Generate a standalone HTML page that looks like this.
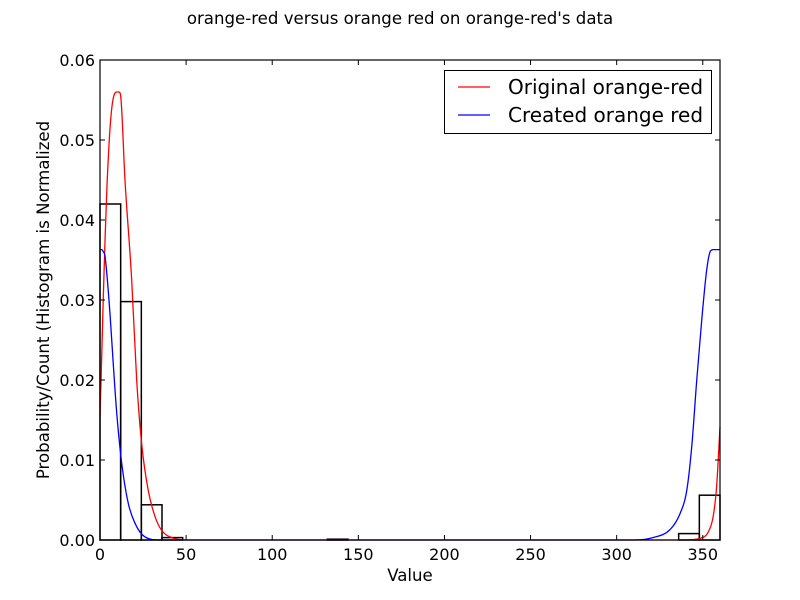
<!DOCTYPE html>
<html><head><meta charset="utf-8"><style>
body{margin:0;background:#fff;}
svg{display:block;font-family:"DejaVu Sans","Liberation Sans",sans-serif;}
</style></head><body>
<svg id="chart" width="800" height="600">
<rect width="800" height="600" fill="#fff"/>
<text x="400" y="24" text-anchor="middle" font-size="16.6">orange-red versus orange red on orange-red's data</text>
<g id="plot"></g>
<text x="410" y="581" text-anchor="middle" font-size="16.6">Value</text>
<text transform="translate(49,300) rotate(-90)" text-anchor="middle" font-size="16.6">Probability/Count (Histogram is Normalized</text>
</svg>
<script>
const binEdges=[0,12,24,36,48,60,72,84,96,108,120,132,144,156,168,180,192,204,216,228,240,252,264,276,288,300,312,324,336,348,360];
const binHeights=[0.042,0.0298,0.0044,0.0003,0,0,0,0,0,0,0,0.0001,0,0,0,0,0,0,0,0,0,0,0,0,0,0,0,0,0.0008,0.0056];
const redX=[0,1,2,3,4,6,8,10,11,12,14.5,18.4,21.3,24.2,28,32,35.8,41.6,50,340,348.4,353.2,356,358,360];
const redY=[0.0154,0.023,0.031,0.038,0.044,0.052,0.0555,0.056,0.056,0.0555,0.045,0.0325,0.02,0.012,0.0062,0.0029,0.0012,0.0003,0,0,0.0002,0.001,0.0029,0.0066,0.0141];
const blueX=[0,1,2,2.9,5.8,7.7,9.7,12.6,16.4,20.3,26,35,310,321,331,336.8,340.7,343.6,346.5,349.4,352.3,354.4,356,358,360];
const blueY=[0.0363,0.0363,0.036,0.0355,0.0283,0.022,0.0159,0.0096,0.0046,0.0021,0.0004,0,0,0.0003,0.0013,0.0033,0.0062,0.0117,0.02,0.0275,0.0338,0.0361,0.0363,0.0363,0.0363];
const xTicks=[0,50,100,150,200,250,300,350];
const yTicks=[0,0.01,0.02,0.03,0.04,0.05,0.06];
const X0=100,X1=720,Y0=540,Y1=60;
const sx=v=>X0+(v/360)*(X1-X0);
const sy=v=>Y0-(v/0.06)*(Y0-Y1);
const NS="http://www.w3.org/2000/svg";
const g=document.getElementById('plot');
function mk(t,a){const e=document.createElementNS(NS,t);for(const k in a)e.setAttribute(k,a[k]);g.appendChild(e);return e;}
for(let i=0;i<binHeights.length;i++){
  if(binHeights[i]<=0)continue;
  const r=mk('rect',{x:sx(binEdges[i]),y:sy(binHeights[i]),width:sx(binEdges[i+1])-sx(binEdges[i]),height:Y0-sy(binHeights[i]),fill:'none',stroke:'#000','stroke-width':1.5});
  
  
}
function smoothPath(xs,ys){
  const px=xs.map(sx),py=ys.map(sy),n=px.length;
  const d=[],m=[];
  for(let i=0;i<n-1;i++)d.push((py[i+1]-py[i])/(px[i+1]-px[i]));
  for(let i=0;i<n;i++){
    if(i===0)m.push(d[0]);else if(i===n-1)m.push(d[n-2]);
    else m.push(d[i-1]*d[i]<=0?0:(d[i-1]+d[i])/2);
  }
  for(let i=0;i<n-1;i++){
    if(d[i]===0){m[i]=0;m[i+1]=0;continue;}
    const a=m[i]/d[i],b=m[i+1]/d[i],s=a*a+b*b;
    if(s>9){const t=3/Math.sqrt(s);m[i]=t*a*d[i];m[i+1]=t*b*d[i];}
  }
  let p='M'+px[0].toFixed(2)+','+py[0].toFixed(2);
  for(let i=0;i<n-1;i++){
    const h=(px[i+1]-px[i])/3;
    p+='C'+(px[i]+h).toFixed(2)+','+(py[i]+m[i]*h).toFixed(2)+' '+(px[i+1]-h).toFixed(2)+','+(py[i+1]-m[i+1]*h).toFixed(2)+' '+px[i+1].toFixed(2)+','+py[i+1].toFixed(2);
  }
  return p;
}
function line(xs,ys,c,name){
  const p=mk('path',{d:smoothPath(xs,ys),fill:'none',stroke:c,'stroke-width':1.3,'stroke-linejoin':'round'});
  
  
}
line(redX,redY,'#ff0000','original-orange-red-line');
line(blueX,blueY,'#0000ff','created-orange-red-line');
const fr=mk('rect',{x:X0,y:Y1,width:X1-X0,height:Y0-Y1,fill:'none',stroke:'#000','stroke-width':1.2});


xTicks.forEach(t=>{
  const x=sx(t);
  mk('line',{x1:x,y1:Y0,x2:x,y2:Y0-5,stroke:'#000'});
  mk('line',{x1:x,y1:Y1,x2:x,y2:Y1+5,stroke:'#000'});
  const tx=mk('text',{x:x,y:Y0+20,'text-anchor':'middle','font-size':16});
  tx.textContent=t;
  
  
});
yTicks.forEach(t=>{
  const y=sy(t);
  mk('line',{x1:X0,y1:y,x2:X0+5,y2:y,stroke:'#000'});
  mk('line',{x1:X1,y1:y,x2:X1-5,y2:y,stroke:'#000'});
  const tx=mk('text',{x:X0-5,y:y+6,'text-anchor':'end','font-size':16});
  tx.textContent=t.toFixed(2);
  
  
});
const lg=mk('rect',{x:444.5,y:70.5,width:267,height:63,fill:'#fff',stroke:'#000','stroke-width':1});


[['Original orange-red','#ff0000',87],['Created orange red','#0000ff',115]].forEach(([lab,c,y])=>{
  mk('line',{x1:458,y1:y,x2:490,y2:y,stroke:c,'stroke-width':1.3});
  const tx=mk('text',{x:508,y:y+7,'font-size':20});
  tx.textContent=lab;
  
  
});
</script>
</body></html>
